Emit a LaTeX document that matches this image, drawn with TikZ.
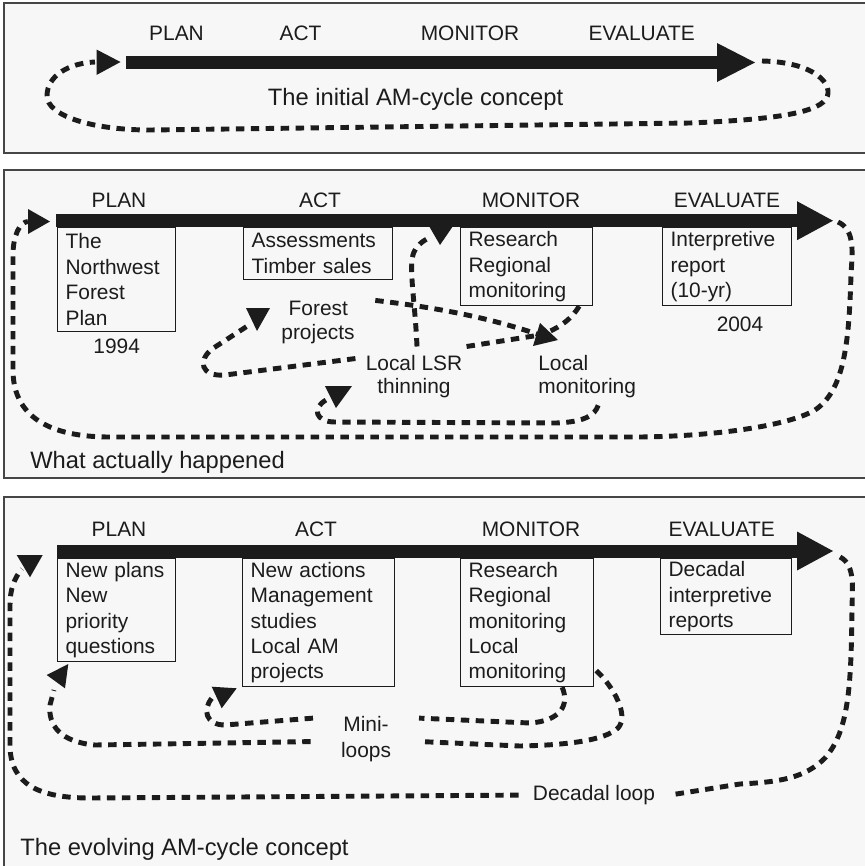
\documentclass[tikz,border=0pt]{standalone}
\usepackage{fontspec}
\setmainfont{Liberation Sans}
\usetikzlibrary{calc}
\definecolor{panelbg}{RGB}{247,247,247}
\definecolor{framegray}{RGB}{70,70,70}
\definecolor{ink}{RGB}{28,28,28}
\newcommand{\hdrfont}{\fontsize{11.9pt}{14.5pt}\selectfont}
\newcommand{\capfont}{\fontsize{13.5pt}{16pt}\selectfont}
\begin{document}
\begin{tikzpicture}[x=0.02cm,y=-0.02cm,
  panel/.style={fill=panelbg,draw=framegray,line width=1pt},
  hdr/.style={font=\hdrfont,text=ink,inner sep=0pt},
  note/.style={font=\hdrfont,text=ink,inner sep=0pt,anchor=base},
  capn/.style={font=\capfont,text=ink,inner sep=0pt},
  item/.style={draw=ink,line width=0.7pt,anchor=north west,align=left,
    font=\hdrfont,text=ink,inner xsep=0.16cm,inner ysep=0pt},
  loop/.style={draw=ink,line width=2.8pt,dash pattern=on 4.8pt off 3.7pt},
  head/.style={fill=ink},
  bar/.style={fill=ink}]
\useasboundingbox (0,0) rectangle (865,866);
\fill[white] (0,0) rectangle (865,866);

% ---------- three panels ----------
\path[panel] (4,3) rectangle (890,153);
\path[panel] (4,170) rectangle (890,478);
\path[panel] (4,497) rectangle (890,890);

% ================= panel 1: the initial cycle =================
\node[hdr] (t-plan) at (176.5,33.5) {PLAN};
\node[hdr] (t-act)  at (300.6,33.5) {ACT};
\node[hdr] (t-mon)  at (470,33.5) {MONITOR};
\node[hdr] (t-eval) at (641.8,33.5) {EVALUATE};
\fill[bar] (126,56) rectangle (717,69);
\fill[head] (717,43) -- (755,62.5) -- (717,82) -- cycle;
\fill[head] (96.5,49.5) -- (120.5,62) -- (96.5,75) -- cycle;
\node[capn,anchor=base] (t-cap) at (415.6,105.4) {The initial AM-cycle concept};
\coordinate (t-out) at (762,61);
\coordinate (t-in) at (95,62);
\draw[loop] (t-out) .. controls (815,62) and (835,85) .. (826,99)
  .. controls (815,115) and (760,120) .. (690,123) -- (150,130)
  .. controls (90,130) and (47,115) .. (47,96)
  .. controls (47,75) and (70,63) .. (t-in);

% ================= panel 2: what actually happened =================
\node[hdr] (m-plan) at (119,200) {PLAN};
\node[hdr] (m-act)  at (320,200) {ACT};
\node[hdr] (m-mon)  at (531,200) {MONITOR};
\node[hdr] (m-eval) at (727,200) {EVALUATE};

\node[item,minimum width=2.36cm,minimum height=2.08cm,text width=2.04cm] (m-b1) at (57,227)
  {The\\Northwest\\Forest\\Plan};
\node[item,minimum width=2.98cm,minimum height=1.04cm,text width=2.66cm] (m-b2) at (243,227)
  {Assessments\\Timber sales};
\node[item,minimum width=2.64cm,minimum height=1.56cm,text width=2.32cm] (m-b3) at (460,227)
  {Research\\Regional\\monitoring};
\node[item,minimum width=2.58cm,minimum height=1.56cm,text width=2.26cm] (m-b4) at (662,227)
  {Interpretive\\report\\(10-yr)};

\fill[bar] (56,214.2) rectangle (797,227.2);
\fill[head] (797,201.2) -- (833,220.7) -- (797,240.2) -- cycle;

\node[note] (y1994) at (116.7,353.3) {1994};
\node[note] (y2004) at (740,331.7) {2004};
\node[note] (fp1) at (318.3,315.5) {Forest};
\node[note] (fp2) at (318,339) {projects};
\node[note] (lsr1) at (414,370) {Local LSR};
\node[note] (lsr2) at (414,393.3) {thinning};
\node[note,anchor=base west] (lm1) at (538,370) {Local};
\node[note,anchor=base west] (lm2) at (538,393.3) {monitoring};
\node[capn,anchor=base west] (m-cap) at (30,468.8) {What actually happened};

% arrowheads
\fill[head] (28,209) -- (50,221.5) -- (28,234) -- cycle;
\fill[head] (246,308) -- (270,308) -- (257,331) -- cycle;
\fill[head] (325,386) -- (352,386) -- (336,408) -- cycle;
\fill[head] (429,226) -- (453,226) -- (440,245) -- cycle;
\fill[head] (540,323) -- (533,346) -- (558,340) -- cycle;

\coordinate (m-out) at (838,222);
\coordinate (m-in) at (28,221.5);
\coordinate (conv) at (540,335);
\coordinate (fp-head) at (249,325);
\coordinate (lsr-head) at (326,400);
\coordinate (bar-head) at (432,237);

% decade-long loop back to planning
\draw[loop] (m-out) .. controls (856,230) and (852,255) .. (851,275)
  .. controls (849,340) and (845,390) .. (815,410)
  .. controls (790,425) and (720,436) .. (640,437) -- (110,437)
  .. controls (40,437) and (13,410) .. (13,370) -- (13,255)
  .. controls (13,235) and (20,222) .. (m-in);
% local links
\draw[loop] ($(fp1.east)+(27,-8)$) .. controls (440,308) and (490,318) .. (conv);
\draw[loop] ($(lsr1.north east)+(4,-8)$) -- (conv);
\draw[loop] ($(m-b3.south east)+(-14,0)$) .. controls (572,318) and (562,326) .. (548,332);
\draw[loop] ($(lsr1.north)+(3,-8)$) .. controls (415,300) and (408,265) .. (414,252)
  .. controls (418,244) and (425,239) .. (bar-head);
\draw[loop] ($(lsr1.west)+(-10,-4)$) -- (225,375) .. controls (200,377) and (198,360) .. (212,349)
  -- (fp-head);
\draw[loop] ($(lm2.base)+(11,12)$) .. controls (595,415) and (585,422) .. (556,423) -- (335,422)
  .. controls (315,422) and (312,408) .. (lsr-head);

% ================= panel 3: the evolving cycle =================
\node[hdr] (b-plan) at (119,529.3) {PLAN};
\node[hdr] (b-act)  at (316,529.3) {ACT};
\node[hdr] (b-mon)  at (531,529.3) {MONITOR};
\node[hdr] (b-eval) at (721.7,529.3) {EVALUATE};

\node[item,minimum width=2.36cm,minimum height=2.06cm,text width=2.04cm] (b-b1) at (57,558)
  {New plans\\New\\priority\\questions};
\node[item,minimum width=3.04cm,minimum height=2.56cm,text width=2.72cm] (b-b2) at (242,558)
  {New actions\\Management\\studies\\Local AM\\projects};
\node[item,minimum width=2.66cm,minimum height=2.56cm,text width=2.34cm] (b-b3) at (460,558)
  {Research\\Regional\\monitoring\\Local\\monitoring};
\node[item,minimum width=2.62cm,minimum height=1.52cm,text width=2.30cm] (b-b4) at (660,558)
  {Decadal\\interpretive\\reports};

\fill[bar] (57,544.5) rectangle (797,557.5);
\fill[head] (797,531.5) -- (833,551) -- (797,570.5) -- cycle;

\node[note,inner xsep=0.6cm] (mini1) at (366,731.7) {Mini-};
\node[note,inner xsep=0.6cm] (mini2) at (366,757) {loops};
\node[note,inner xsep=0.28cm] (dec) at (594,800.5) {Decadal loop};
\node[capn,anchor=base west] (b-cap) at (20,855.4) {The evolving AM-cycle concept};

% arrowheads
\fill[head] (16.7,555) -- (42.7,555) -- (30,577.3) -- cycle;
\fill[head] (46.7,675) -- (68.3,664) -- (65,688.3) -- cycle;
\fill[head] (211.7,686.7) -- (236.7,688.3) -- (221.7,708.3) -- cycle;

\coordinate (b-out) at (840,557);
\coordinate (dec-head) at (22,569);
\coordinate (plan-head) at (54,690);
\coordinate (act-head) at (212,698);

% decadal loop
\draw[loop] (b-out) .. controls (856,565) and (852,590) .. (852,610)
  .. controls (851,680) and (850,730) .. (825,758)
  .. controls (805,778) and (780,782) .. (740,784) -- (dec.east);
\draw[loop] (dec.west) -- (90,798) .. controls (40,798) and (10,785) .. (10,745)
  -- (10,605) .. controls (10,590) and (14,578) .. (dec-head);
% mini-loops
\draw[loop] ($(b-b3.south)+(35,0)$) .. controls (570,705) and (560,721) .. (530,723)
  -- ($(mini1.east)+(0,-6)$);
\draw[loop] ($(mini1.west)+(0,-6)$) -- (225,725) .. controls (206,725) and (202,710) .. (act-head);
\draw[loop] ($(b-b3.east)+(2,48)$) .. controls (612,685) and (630,715) .. (618,728)
  .. controls (605,740) and (570,745) .. (520,746) -- ($(mini2.east)+(0,-10)$);
\draw[loop] ($(mini2.west)+(0,-10)$) -- (95,745) .. controls (60,742) and (48,725) .. (50,705)
  -- (plan-head);
\end{tikzpicture}
\end{document}
